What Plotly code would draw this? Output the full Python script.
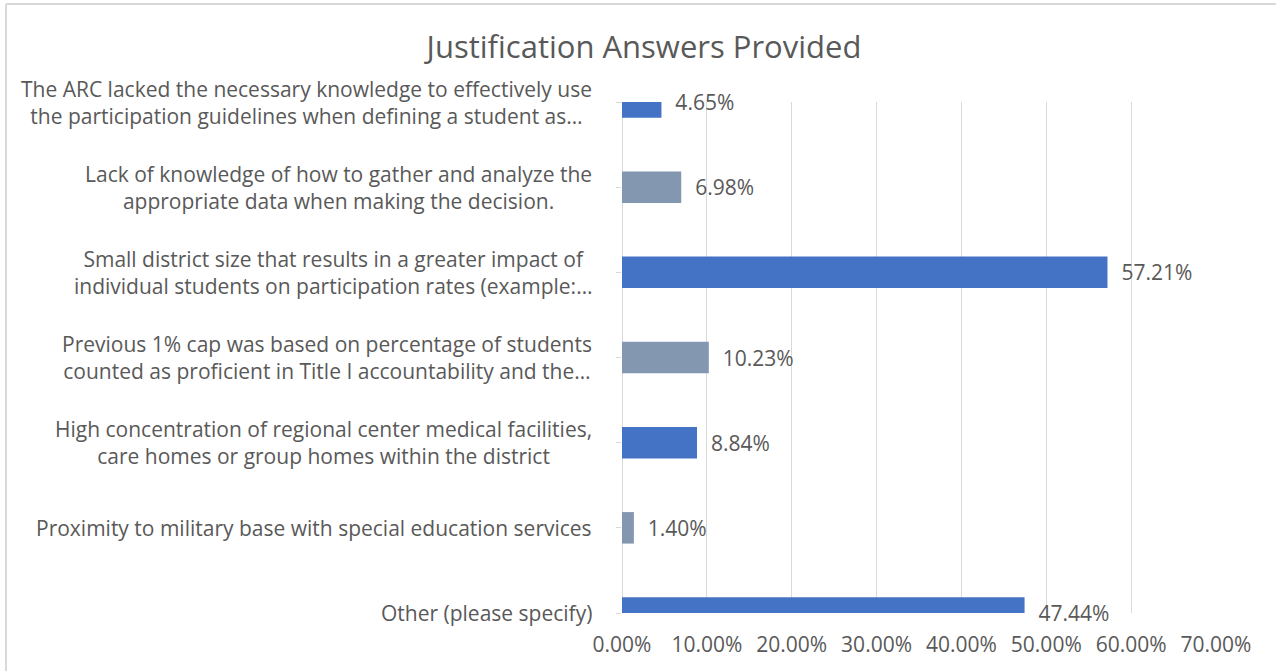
import plotly.graph_objects as go

title = "Justification Answers Provided"
categories = [
    "The ARC lacked the necessary knowledge to effectively use<br>the participation guidelines when defining a student as…",
    "Lack of knowledge of how to gather and analyze the<br>appropriate data when making the decision.",
    "Small district size that results in a greater impact of<br>individual students on participation rates (example:…",
    "Previous 1% cap was based on percentage of students<br>counted as proficient in Title I accountability and the…",
    "High concentration of regional center medical facilities,<br>care homes or group homes within the district",
    "Proximity to military base with special education services",
    "Other (please specify)",
]
values = [4.65, 6.98, 57.21, 10.23, 8.84, 1.40, 47.44]
bar_colors = ["#4472C4", "#8497B0", "#4472C4", "#8497B0", "#4472C4", "#8497B0", "#4472C4"]
x_tickvals = [0, 10, 20, 30, 40, 50, 60, 70]
x_ticktext = ["0.00%", "10.00%", "20.00%", "30.00%", "40.00%", "50.00%", "60.00%", "70.00%"]

FONT = "Open Sans"
TXT = "#595959"
FS = 21
W, H = 1276, 671
ML, MR, MT, MB = 622, 60, 102, 58
pw, ph = W - ML - MR, H - MT - MB

pos = list(range(len(categories)))

fig = go.Figure()
fig.add_trace(go.Bar(
    x=values, y=pos, orientation="h",
    marker=dict(color=bar_colors, line=dict(width=0)),
    width=0.37,
    text=["\u00a0\u00a0" + f"{v:.2f}%" for v in values],
    textposition="outside",
    textfont=dict(family=FONT, size=FS, color=TXT),
    cliponaxis=False,
    constraintext="none",
    hoverinfo="skip",
))

for p, c in zip(pos, categories):
    fig.add_annotation(
        x=0, xref="paper", y=p, yref="y",
        text=c, showarrow=False, xanchor="right", yanchor="middle",
        align="center", xshift=-28,
        font=dict(family=FONT, size=FS, color=TXT),
    )

# chart border (left and top edges only visible)
bx0 = (6 - ML) / pw
bx1 = (W + 5 - ML) / pw
by0 = (H - MB - (H + 5)) / ph
by1 = (H - MB - 4) / ph
fig.add_shape(type="line", xref="paper", yref="paper", x0=bx0, x1=bx0, y0=by0, y1=by1,
              line=dict(color="#D9D9D9", width=2), layer="below")
fig.add_shape(type="line", xref="paper", yref="paper", x0=bx0, x1=bx1, y0=by1, y1=by1,
              line=dict(color="#D9D9D9", width=2), layer="below")

fig.update_layout(
    width=W, height=H,
    margin=dict(l=ML, r=MR, t=MT, b=MB),
    paper_bgcolor="white", plot_bgcolor="white",
    showlegend=False,
    title=dict(text=title, x=644 / W, xanchor="center", y=1 - 47 / H, yanchor="middle",
               font=dict(family=FONT, size=31, color=TXT)),
    xaxis=dict(range=[0, 70], tickvals=x_tickvals, ticktext=x_ticktext,
               showgrid=True, gridcolor="#D9D9D9", gridwidth=1,
               zeroline=True, zerolinecolor="#D9D9D9", zerolinewidth=1,
               showline=False, ticks="", ticklabelstandoff=17,
               tickfont=dict(family=FONT, size=FS, color=TXT)),
    yaxis=dict(range=[len(categories) - 1, 0], tickvals=pos, showticklabels=False,
               showgrid=False, zeroline=False, showline=False,
               ticks="outside", ticklen=5, tickcolor="#D9D9D9"),
)

fig.write_html("out.html", config={"displayModeBar": False},
               post_script="document.body.style.margin='0';")
